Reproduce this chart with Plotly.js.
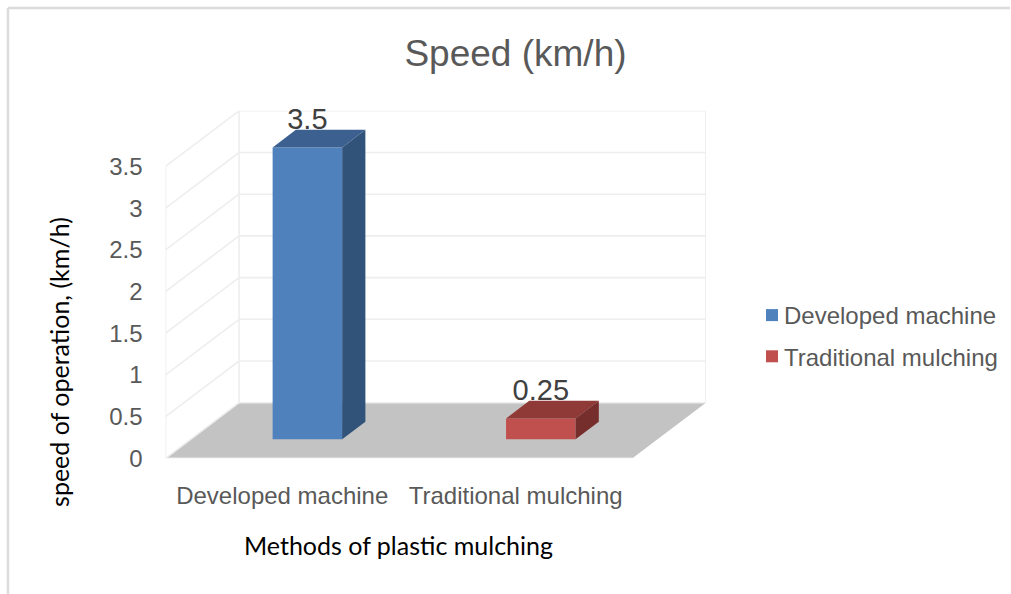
<!DOCTYPE html>
<html><head><meta charset="utf-8">
<script src="https://cdn.plot.ly/plotly-3.0.1.min.js"></script>
<style>html,body{margin:0;padding:0;background:#fff}</style></head>
<body><div id="chart" style="width:1011px;height:594px"></div>
<script>
const categories = ["Developed machine", "Traditional mulching"];
const speeds = [3.5, 0.25];
const speedLabels = ["3.5", "0.25"];
const yTicks = [0, 0.5, 1, 1.5, 2, 2.5, 3, 3.5];
const yTickText = ["0", "0.5", "1", "1.5", "2", "2.5", "3", "3.5"];
const frontColors = ["#4f81bd", "#c0504d"];
const topColors = ["#3c6191", "#8f3a37"];
const sideColors = ["#31537a", "#762e2c"];

// oblique projection of the pseudo-3D box, in axis units
const W = 1011, H = 594, L = 165.7, R = 706.7, T = 110.7, B = 458.3;
const catPx = 233.65, valPx = 83.4;
const depthX = 73.6 / catPx, depthY = 55.6 / valPx;
const nearD = 0.342, farD = 0.658, barW = 69.6 / catPx, labelLift = 0.305;
const px = (c, d) => c + d * depthX;
const py = (v, d) => v + d * depthY;
const yMax = yTicks[yTicks.length - 1];
const xMin = -0.5, xMaxFront = categories.length - 0.5;

const toPath = pts => "M" + pts.map(p => p[0] + "," + p[1]).join("L") + "Z";
const gridLine = { color: "#eeeeee", width: 1.6 };
const shapes = [];
// floor
shapes.push({ type: "path", xref: "x", yref: "y", layer: "below", fillcolor: "#c3c3c3",
  line: { width: 0 },
  path: toPath([[px(xMin,0),py(0,0)],[px(xMaxFront,0),py(0,0)],[px(xMaxFront,1),py(0,1)],[px(xMin,1),py(0,1)]]) });
const seg = (a, b, line) => ({ type: "line", xref: "x", yref: "y", layer: "below",
  x0: a[0], y0: a[1], x1: b[0], y1: b[1], line });
yTicks.forEach(v => {
  shapes.push(seg([px(xMin,0),py(v,0)], [px(xMin,1),py(v,1)], gridLine));
  shapes.push(seg([px(xMin,1),py(v,1)], [px(xMaxFront,1),py(v,1)], gridLine));
});
shapes.push(seg([px(xMin,0),py(0,0)], [px(xMin,0),py(yMax,0)], gridLine));
shapes.push(seg([px(xMin,1),py(0,1)], [px(xMin,1),py(yMax,1)], gridLine));
shapes.push(seg([px(xMaxFront,1),py(0,1)], [px(xMaxFront,1),py(yMax,1)], gridLine));
shapes.push(seg([px(xMin,0),py(0,0)], [px(xMaxFront,0),py(0,0)], gridLine));
// outer chart frame
const frame = { color: "#dcdcdc", width: 2.5 };
shapes.push({ type: "line", xref: "paper", yref: "paper", layer: "below",
  x0: 8 / W, x1: 8 / W, y0: 1 - 8 / H, y1: 0, line: frame });
shapes.push({ type: "line", xref: "paper", yref: "paper", layer: "below",
  x0: 8 / W, x1: 1, y0: 1 - 8 / H, y1: 1 - 8 / H, line: frame });

const traces = [];
categories.forEach((c, i) => {
  traces.push({ type: "bar", name: c, x: [px(i, nearD)], y: [speeds[i]], base: [py(0, nearD)], width: barW,
    marker: { color: frontColors[i], line: { width: 0 } }, legendgroup: c, hoverinfo: "name+y" });
});
categories.forEach((c, i) => {
  traces.push({ type: "scatter", mode: "text", x: [px(i, nearD)], y: [py(speeds[i], nearD) + labelLift],
    text: [speedLabels[i]], textposition: "middle center", cliponaxis: false,
    textfont: { family: "Liberation Sans", size: 29, color: "#404040" }, showlegend: false, hoverinfo: "skip" });
});
const poly = (pts, color) => ({ type: "scatter", mode: "lines", fill: "toself", fillcolor: color,
  x: pts.map(p => p[0]).concat(pts[0][0]), y: pts.map(p => p[1]).concat(pts[0][1]),
  line: { width: 0, color: color }, showlegend: false, hoverinfo: "skip" });
categories.forEach((c, i) => {
  const a = px(i, 0) - barW / 2, b = px(i, 0) + barW / 2, v = speeds[i];
  traces.push(poly([[px(a,nearD),py(v,nearD)],[px(b,nearD),py(v,nearD)],[px(b,farD),py(v,farD)],[px(a,farD),py(v,farD)]], topColors[i]));
  traces.push(poly([[px(b,nearD),py(0,nearD)],[px(b,farD),py(0,farD)],[px(b,farD),py(v,farD)],[px(b,nearD),py(v,nearD)]], sideColors[i]));
});

const layout = {
  width: W, height: H, autosize: false,
  margin: { l: 0, r: 0, t: 0, b: 0, pad: 0 },
  paper_bgcolor: "#ffffff", plot_bgcolor: "rgba(0,0,0,0)",
  barmode: "overlay", shapes,
  font: { family: "Liberation Sans", color: "#595959", size: 24 },
  title: { text: "Speed (km/h)", font: { family: "Liberation Sans", size: 37, color: "#595959" },
    x: 516 / W, xref: "paper", xanchor: "center", y: 1 - 53 / H, yref: "paper", yanchor: "middle" },
  xaxis: { domain: [L / W, R / W], range: [xMin, xMin + (R - L) / catPx], tickmode: "array",
    tickvals: categories.map((c, i) => i),
    ticktext: categories, showgrid: false, zeroline: false, showline: false, ticks: "",
    ticklabelstandoff: 21, tickfont: { size: 24, color: "#595959" }, fixedrange: true },
  yaxis: { domain: [1 - B / H, 1 - T / H], range: [0, (B - T) / valPx], tickmode: "array", tickvals: yTicks, ticktext: yTickText,
    showgrid: false, zeroline: false, showline: false, ticks: "",
    ticklabelstandoff: 22, tickfont: { size: 24, color: "#595959" }, fixedrange: true },
  legend: { x: 752.5 / W, y: 1 - 293 / H, xanchor: "left", yanchor: "top",
    bgcolor: "rgba(0,0,0,0)", font: { size: 24, color: "#595959" }, traceorder: "grouped", tracegroupgap: 7 },
  annotations: [
    { text: "Methods of plastic mulching", xref: "paper", yref: "paper", showarrow: false,
      x: 399 / W, y: 1 - 545 / H, xanchor: "center", yanchor: "middle",
      font: { family: "Lato", size: 25, color: "#000000" } },
    { text: "speed of operation, (km/h)", xref: "paper", yref: "paper", showarrow: false, textangle: -90,
      x: 59 / W, y: 1 - 362 / H, xanchor: "center", yanchor: "middle",
      font: { family: "Lato", size: 25, color: "#000000" } }
  ]
};
Plotly.newPlot("chart", traces, layout, { displayModeBar: false }).then(() => {
  // tighten the gap between legend swatch and label
  document.querySelectorAll("#chart .legendtext").forEach(t => {
    t.setAttribute("x", parseFloat(t.getAttribute("x")) - 8);
  });
});
</script></body></html>
